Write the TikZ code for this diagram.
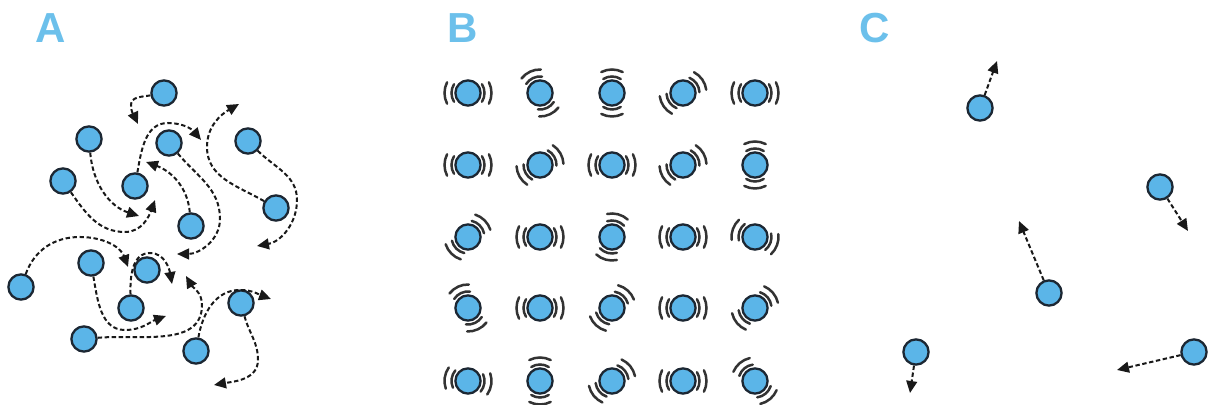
\documentclass[tikz,border=0pt]{standalone}
\usepackage{fontspec}
\setmainfont{Liberation Sans}
\usetikzlibrary{arrows.meta}
\definecolor{ballblue}{HTML}{5BB5E8}
\definecolor{ballrim}{HTML}{1C2733}
\definecolor{tagblue}{HTML}{6CC0EB}
\definecolor{wavegray}{HTML}{333333}
\tikzset{
  ball/.style={circle, draw=ballrim, fill=ballblue, line width=1.15pt,
               minimum size=12.6pt, inner sep=0pt},
  trail/.style={draw=black!90, line width=1pt, dash pattern=on 2.2pt off 1.3pt,
                -{Triangle[length=6pt,width=5.4pt]}},
  jiggle/.style={draw=wavegray, line width=1.25pt, line cap=round},
  tag/.style={text=tagblue, font=\fontsize{21}{25}\selectfont\bfseries, inner sep=0pt}
}
% two pairs of vibration arcs around a ball, along the axis at angle #2
\newcommand\vibarcs[2]{%
  \foreach \s in {0,180}{%
    \draw[jiggle] ([shift={(#2+\s-32:16.5)}]#1.center)
      arc[start angle=#2+\s-32, end angle=#2+\s+32, radius=16.5];
    \draw[jiggle] ([shift={(#2+\s-27:23.5)}]#1.center)
      arc[start angle=#2+\s-27, end angle=#2+\s+27, radius=23.5];
  }%
}
\begin{document}
\begin{tikzpicture}[x=0.5pt,y=0.5pt]
\useasboundingbox (0,0) rectangle (1212,405);

% panel labels
\node[tag] (tA) at (51,377) {A};
\node[tag] (tB) at (463,377) {B};
\node[tag] (tC) at (875,377) {C};

% ---------- A: gas, particles wandering along curved paths ----------
\node[ball] (a1)  at (164,312) {};
\node[ball] (a2)  at (89,266)  {};
\node[ball] (a3)  at (169,262) {};
\node[ball] (a4)  at (248,264) {};
\node[ball] (a5)  at (63,224)  {};
\node[ball] (a6)  at (135,219) {};
\node[ball] (a7)  at (276,197) {};
\node[ball] (a8)  at (191,179) {};
\node[ball] (a9)  at (91,142)  {};
\node[ball] (a10) at (147,135) {};
\node[ball] (a11) at (21,118)  {};
\node[ball] (a12) at (131,97)  {};
\node[ball] (a13) at (241,102) {};
\node[ball] (a14) at (84,66)   {};
\node[ball] (a15) at (196,54)  {};

\draw[trail] (a1) to[out=190,in=90] (131,300) to[out=-90,in=115] (138,281);
\draw[trail] (a2) to[out=-85,in=162] (139,189);
\draw[trail] (a5) to[out=-55,in=180] (125,173) to[out=0,in=-110] (155,205);
\draw[trail] (a6) to[out=80,in=180] (168,282) to[out=0,in=130] (201,265);
\draw[trail] (a3) to[out=-50,in=90] (220,186) to[out=-90,in=0] (177,151);
\draw[trail] (a8) to[out=95,in=-20] (146,243);
\draw[trail] (a7) to[out=150,in=-90] (207,258) to[out=90,in=210] (239,301);
\draw[trail] (a4) to[out=-45,in=90] (297,205) to[out=-90,in=10] (257,159);
\draw[trail] (a11) to[out=70,in=180] (80,168) to[out=0,in=110] (128,138);
\draw[trail] (a12) to[out=92,in=180] (150,152) to[out=0,in=100] (172,121);
\draw[trail] (a9) to[out=-80,in=180] (125,75) to[out=0,in=200] (166,89);
\draw[trail] (a14) to[out=5,in=-90] (202,100) to[out=90,in=-60] (186,129);
\draw[trail] (a15) to[out=80,in=180] (240,115) to[out=0,in=160] (271,106);
\draw[trail] (a13) to[out=-75,in=90] (258,45) to[out=-90,in=10] (214,20);

% ---------- B: solid, particles vibrating in a lattice ----------
\foreach \x [count=\c] in {468,540,612,683,755}
  \foreach \y [count=\r] in {312,240,168,97,24}
    \node[ball] (b\r\c) at (\x,\y) {};
\foreach \n/\a in {b11/0, b12/115, b13/90, b14/35, b15/0,
                   b21/0, b22/30, b23/0, b24/30, b25/90,
                   b31/45, b32/0, b33/75, b34/0, b35/-20,
                   b41/115, b42/0, b43/48, b44/0, b45/40,
                   b51/-8, b52/90, b53/39, b54/0, b55/130}
  {\vibarcs{\n}{\a}}

% ---------- C: particles moving in straight lines ----------
\node[ball] (c1) at (980,297)  {};
\node[ball] (c2) at (1160,218) {};
\node[ball] (c3) at (1049,112) {};
\node[ball] (c4) at (916,53)   {};
\node[ball] (c5) at (1194,53)  {};
\coordinate (e1) at (997,344);
\coordinate (e2) at (1188,174);
\coordinate (e3) at (1019,184);
\coordinate (e4) at (910,12);
\coordinate (e5) at (1117,35);
\draw[trail] (c1) -- (e1);
\draw[trail] (c2) -- (e2);
\draw[trail] (c3) -- (e3);
\draw[trail] (c4) -- (e4);
\draw[trail] (c5) -- (e5);
\end{tikzpicture}
\end{document}
